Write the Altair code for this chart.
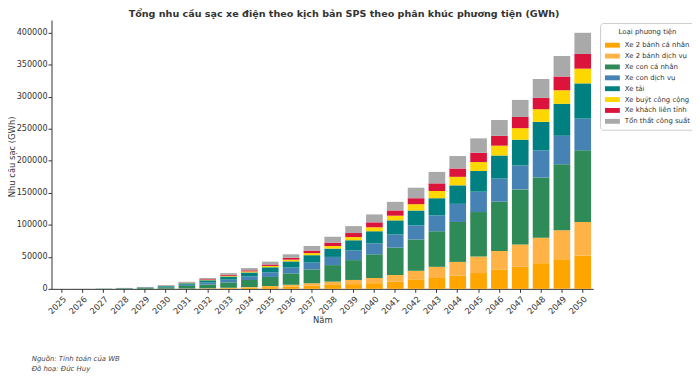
import altair as alt
import pandas as pd

years = ["2025", "2026", "2027", "2028", "2029", "2030", "2031", "2032", "2033",
         "2034", "2035", "2036", "2037", "2038", "2039", "2040", "2041", "2042",
         "2043", "2044", "2045", "2046", "2047", "2048", "2049", "2050"]

names = ["Xe 2 bánh cá nhân", "Xe 2 bánh dịch vụ", "Xe con cá nhân", "Xe con dịch vụ",
         "Xe tải", "Xe buýt công cộng", "Xe khách liên tỉnh", "Tổn thất công suất"]

colors = ["#FFA500", "#FFB347", "#2E8B57", "#4682B4", "#008080", "#FFD700", "#DC143C", "#A9A9A9"]

xe2_ca_nhan = [1, 3, 10, 30, 70, 150, 300, 600, 1100, 1800, 2700, 3800, 5000, 6200, 7400, 8800,
               11300, 15000, 17000, 20500, 24700, 29800, 34400, 40100, 46300, 52000]
xe2_dich_vu = [0, 1, 5, 10, 30, 60, 150, 300, 600, 1000, 1700, 2600, 3800, 5100, 6500, 8200,
               10300, 13200, 17400, 21600, 25800, 29300, 35000, 39700, 45200, 52500]
xe_con_ca_nhan = [30, 70, 220, 650, 1250, 2400, 4100, 6000, 8400, 11000, 14200, 17800, 21500,
                  25800, 31000, 37000, 42800, 48900, 55600, 62400, 69500, 77200, 86000, 94200,
                  103000, 112000]
xe_con_dich_vu = [5, 15, 60, 200, 450, 950, 1900, 3000, 4300, 5600, 7200, 9000, 10800, 12800,
                  15000, 17000, 20500, 22100, 24700, 28300, 31800, 36000, 37500, 42200, 44800, 49500]
xe_tai = [14, 35, 110, 330, 650, 1300, 2300, 3500, 4900, 6200, 7900, 9700, 11500, 13000, 16000,
          19000, 22100, 23200, 26900, 28900, 32400, 36000, 40100, 44800, 49900, 55000]
xe_buyt = [1, 4, 15, 50, 100, 200, 450, 800, 1100, 1600, 2100, 2700, 3300, 4000, 5000, 6200,
           7300, 9900, 11300, 13300, 13900, 15400, 18000, 19600, 21100, 23000]
xe_khach = [2, 5, 20, 60, 130, 300, 600, 1000, 1400, 1800, 2300, 2900, 3800, 5200, 6300, 7700,
            8200, 9300, 11900, 13000, 14500, 15400, 17500, 17900, 21600, 23000]
ton_that = [7, 17, 60, 170, 320, 640, 1200, 1800, 2700, 3500, 4400, 5500, 7300, 9300, 10800,
            12400, 13400, 16400, 17900, 19500, 22500, 24700, 26700, 29300, 32000, 33000]

y_ticks = [0, 50000, 100000, 150000, 200000, 250000, 300000, 350000, 400000]

series = [xe2_ca_nhan, xe2_dich_vu, xe_con_ca_nhan, xe_con_dich_vu, xe_tai, xe_buyt, xe_khach, ton_that]

rows = []
for i, yr in enumerate(years):
    for j, (nm, vals) in enumerate(zip(names, series)):
        rows.append({"year": yr, "cat": nm, "val": vals[i], "ord": j})
df = pd.DataFrame(rows)

FONT = "DejaVu Sans"
TXT = "#333333"

bars = alt.Chart(df).mark_bar().encode(
    x=alt.X("year:N", sort=years,
            scale=alt.Scale(paddingInner=0.2, paddingOuter=0.1),
            axis=alt.Axis(title="Năm", labelAngle=315, labelAlign="right", labelBaseline="top",
                          labelPadding=2, titleY=31, titleBaseline="middle")),
    y=alt.Y("val:Q", stack="zero",
            scale=alt.Scale(domain=[0, 420000], nice=False),
            axis=alt.Axis(title="Nhu cầu sạc (GWh)", values=y_ticks, format="d",
                          labelPadding=1, labelFontSize=8.2,
                          titleX=-40, titleY=138, titleBaseline="middle", titleAngle=270)),
    color=alt.Color("cat:N", scale=alt.Scale(domain=names, range=colors),
                    legend=alt.Legend(title="Loại phương tiện", orient="none",
                                      legendX=555, legendY=3,
                                      strokeColor="#cccccc", fillColor="white",
                                      cornerRadius=3, padding=5,
                                      titleFontSize=7, titleFontWeight="normal",
                                      titleAnchor="middle", titleColor=TXT, titlePadding=3,
                                      labelFontSize=7, labelColor=TXT, labelOffset=5,
                                      symbolType="M-1,-0.33H1V0.33H-1Z", symbolSize=225,
                                      symbolStrokeWidth=0, rowPadding=0)),
    order=alt.Order("ord:Q", sort="ascending"),
)

note1 = alt.Chart(pd.DataFrame({"t": ["Nguồn: Tính toán của WB"]})).mark_text(
    align="left", baseline="middle", fontSize=7, fontStyle="italic", color="#444444", font=FONT
).encode(x=alt.value(-20), y=alt.value(343), text="t:N")

note2 = alt.Chart(pd.DataFrame({"t": ["Đồ hoạ: Đức Huy"]})).mark_text(
    align="left", baseline="middle", fontSize=7, fontStyle="italic", color="#444444", font=FONT
).encode(x=alt.value(-20), y=alt.value(353), text="t:N")

chart = alt.layer(bars, note1, note2).properties(
    width=548, height=272,
    title=alt.TitleParams("Tổng nhu cầu sạc xe điện theo kịch bản SPS theo phân khúc phương tiện (GWh)",
                          fontSize=9.7, fontWeight="bold", anchor="middle", dx=22, offset=1,
                          color=TXT, font=FONT),
    autosize=alt.AutoSizeParams(type="none"),
    padding={"left": 44, "top": 10, "right": 100, "bottom": 84},
).configure_view(stroke="transparent").configure_axis(
    labelFont=FONT, titleFont=FONT, labelFontSize=8.5, titleFontSize=8.5,
    labelColor=TXT, titleColor=TXT, domainColor=TXT, tickColor=TXT,
    tickSize=3.5, grid=False, titleFontWeight="normal"
).configure_legend(labelFont=FONT, titleFont=FONT)

chart.save("out.html", embed_options={"renderer": "svg", "actions": False})
